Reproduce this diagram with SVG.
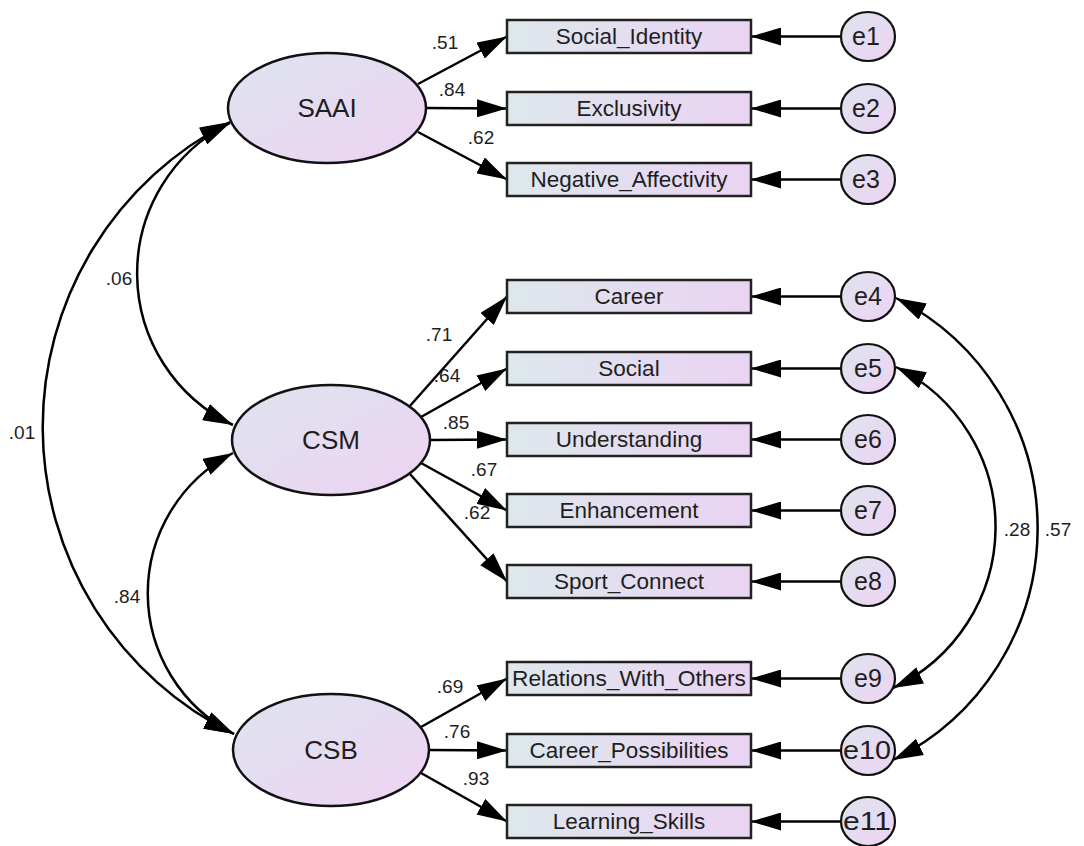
<svg xmlns="http://www.w3.org/2000/svg" width="1084" height="846" viewBox="0 0 1084 846">
<defs>
<linearGradient id="gE" x1="0" y1="0" x2="1" y2="1">
<stop offset="0" stop-color="#dde4ee"/>
<stop offset="1" stop-color="#eed3f3"/>
</linearGradient>
<linearGradient id="gB" x1="0" y1="0" x2="1" y2="0">
<stop offset="0" stop-color="#dde8ec"/>
<stop offset="1" stop-color="#ead3f3"/>
</linearGradient>
<marker id="ah" markerUnits="userSpaceOnUse" markerWidth="32" markerHeight="18" refX="30" refY="9" orient="auto-start-reverse" viewBox="0 0 32 18">
<path d="M0,0 L30,9 L0,18 Z" fill="#000"/>
</marker>
<style>
.lat{fill:url(#gE);stroke:#111;stroke-width:2.5}
.box{fill:url(#gB);stroke:#222;stroke-width:2.5}
.err{fill:url(#gE);stroke:#111;stroke-width:2.2}
.ln{fill:none;stroke:#000;stroke-width:2.5;marker-end:url(#ah)}
.cov{fill:none;stroke:#000;stroke-width:2.5;marker-start:url(#ah);marker-end:url(#ah)}
text{font-family:"Liberation Sans",Arial,sans-serif;fill:#1e1e1e;text-anchor:middle}
.tl{font-size:26px}
.tb{font-size:22.5px}
.te{font-size:25px}
.tc{font-size:19px}
</style>
</defs>
<rect width="1084" height="846" fill="#fff"/>

<g id="connectors">
<line class="ln" x1="418" y1="84" x2="507" y2="36.5"/>
<line class="ln" x1="425" y1="108" x2="507" y2="108.5"/>
<line class="ln" x1="418" y1="132" x2="507" y2="179.5"/>
<line class="ln" x1="409" y1="407" x2="507" y2="296.5"/>
<line class="ln" x1="421" y1="417" x2="507" y2="368.5"/>
<line class="ln" x1="429" y1="440" x2="507" y2="439.5"/>
<line class="ln" x1="421" y1="463" x2="507" y2="510.5"/>
<line class="ln" x1="409" y1="473" x2="507" y2="581.5"/>
<line class="ln" x1="421" y1="727" x2="507" y2="678.5"/>
<line class="ln" x1="429" y1="750" x2="507" y2="750.5"/>
<line class="ln" x1="421" y1="773" x2="507" y2="821.5"/>
<line class="ln" x1="841" y1="36.5" x2="751" y2="36.5"/>
<line class="ln" x1="841" y1="108.5" x2="751" y2="108.5"/>
<line class="ln" x1="841" y1="179.5" x2="751" y2="179.5"/>
<line class="ln" x1="841" y1="296.5" x2="751" y2="296.5"/>
<line class="ln" x1="841" y1="368.5" x2="751" y2="368.5"/>
<line class="ln" x1="841" y1="439.5" x2="751" y2="439.5"/>
<line class="ln" x1="841" y1="510.5" x2="751" y2="510.5"/>
<line class="ln" x1="841" y1="581.5" x2="751" y2="581.5"/>
<line class="ln" x1="841" y1="678.5" x2="751" y2="678.5"/>
<line class="ln" x1="841" y1="750.5" x2="751" y2="750.5"/>
<line class="ln" x1="841" y1="821.5" x2="751" y2="821.5"/>
<path class="cov" d="M230,122 A342,342 0 0 0 234,734"/>
<path class="cov" d="M230,123 A168,168 0 0 0 233,425"/>
<path class="cov" d="M233,453 A158,158 0 0 0 234,734"/>
<path class="cov" d="M896,298 A258,258 0 0 1 893,760"/>
<path class="cov" d="M896,367 A178,178 0 0 1 893,688"/>
<text class="tc" x="445" y="49">.51</text>
<text class="tc" x="452" y="96">.84</text>
<text class="tc" x="481" y="144">.62</text>
<text class="tc" x="439" y="341">.71</text>
<text class="tc" x="447" y="382">.64</text>
<text class="tc" x="456" y="429">.85</text>
<text class="tc" x="484" y="476">.67</text>
<text class="tc" x="477" y="519">.62</text>
<text class="tc" x="450" y="693">.69</text>
<text class="tc" x="457" y="738">.76</text>
<text class="tc" x="476" y="785">.93</text>
<text class="tc" x="119" y="285">.06</text>
<text class="tc" x="22" y="439">.01</text>
<text class="tc" x="127" y="603">.84</text>
<text class="tc" x="1017" y="536">.28</text>
<text class="tc" x="1058" y="536">.57</text>
</g>

<g id="SAAI"><ellipse class="lat" cx="327" cy="108" rx="99" ry="55"/><text class="tl" x="327" y="108" dy="0.35em">SAAI</text></g>
<g id="CSM"><ellipse class="lat" cx="331" cy="440" rx="99" ry="55"/><text class="tl" x="331" y="440" dy="0.35em">CSM</text></g>
<g id="CSB"><ellipse class="lat" cx="331" cy="750" rx="98" ry="56"/><text class="tl" x="331" y="750" dy="0.35em">CSB</text></g>

<g id="Social_Identity"><rect class="box" x="507" y="20" width="244" height="33"/><text class="tb" x="629" y="36.5" dy="0.35em">Social_Identity</text></g>
<g id="Exclusivity"><rect class="box" x="507" y="92" width="244" height="33"/><text class="tb" x="629" y="108.5" dy="0.35em">Exclusivity</text></g>
<g id="Negative_Affectivity"><rect class="box" x="507" y="163" width="244" height="33"/><text class="tb" x="629" y="179.5" dy="0.35em">Negative_Affectivity</text></g>
<g id="Career"><rect class="box" x="507" y="280" width="244" height="33"/><text class="tb" x="629" y="296.5" dy="0.35em">Career</text></g>
<g id="Social"><rect class="box" x="507" y="352" width="244" height="33"/><text class="tb" x="629" y="368.5" dy="0.35em">Social</text></g>
<g id="Understanding"><rect class="box" x="507" y="423" width="244" height="33"/><text class="tb" x="629" y="439.5" dy="0.35em">Understanding</text></g>
<g id="Enhancement"><rect class="box" x="507" y="494" width="244" height="33"/><text class="tb" x="629" y="510.5" dy="0.35em">Enhancement</text></g>
<g id="Sport_Connect"><rect class="box" x="507" y="565" width="244" height="33"/><text class="tb" x="629" y="581.5" dy="0.35em">Sport_Connect</text></g>
<g id="Relations_With_Others"><rect class="box" x="507" y="662" width="244" height="33"/><text class="tb" x="629" y="678.5" dy="0.35em" textLength="234" lengthAdjust="spacingAndGlyphs">Relations_With_Others</text></g>
<g id="Career_Possibilities"><rect class="box" x="507" y="734" width="244" height="33"/><text class="tb" x="629" y="750.5" dy="0.35em">Career_Possibilities</text></g>
<g id="Learning_Skills"><rect class="box" x="507" y="805" width="244" height="33"/><text class="tb" x="629" y="821.5" dy="0.35em">Learning_Skills</text></g>

<g id="e1"><ellipse class="err" cx="868" cy="36.5" rx="27" ry="24.5"/><text class="te" x="866" y="36.5" dy="0.35em">e1</text></g>
<g id="e2"><ellipse class="err" cx="868" cy="108.5" rx="27" ry="24.5"/><text class="te" x="866" y="108.5" dy="0.35em">e2</text></g>
<g id="e3"><ellipse class="err" cx="868" cy="179.5" rx="27" ry="24.5"/><text class="te" x="866" y="179.5" dy="0.35em">e3</text></g>
<g id="e4"><ellipse class="err" cx="868" cy="296.5" rx="27" ry="24.5"/><text class="te" x="868" y="296.5" dy="0.35em">e4</text></g>
<g id="e5"><ellipse class="err" cx="868" cy="368.5" rx="27" ry="24.5"/><text class="te" x="868" y="368.5" dy="0.35em">e5</text></g>
<g id="e6"><ellipse class="err" cx="868" cy="439.5" rx="27" ry="24.5"/><text class="te" x="868" y="439.5" dy="0.35em">e6</text></g>
<g id="e7"><ellipse class="err" cx="868" cy="510.5" rx="27" ry="24.5"/><text class="te" x="868" y="510.5" dy="0.35em">e7</text></g>
<g id="e8"><ellipse class="err" cx="868" cy="581.5" rx="27" ry="24.5"/><text class="te" x="868" y="581.5" dy="0.35em">e8</text></g>
<g id="e9"><ellipse class="err" cx="868" cy="678.5" rx="27" ry="24.5"/><text class="te" x="868" y="678.5" dy="0.35em">e9</text></g>
<g id="e10"><ellipse class="err" cx="868" cy="750.5" rx="27" ry="24.5"/><text class="te" x="867" y="750.5" dy="0.35em" textLength="48" lengthAdjust="spacingAndGlyphs">e10</text></g>
<g id="e11"><ellipse class="err" cx="868" cy="821.5" rx="27" ry="24.5"/><text class="te" x="867" y="821.5" dy="0.35em" textLength="48" lengthAdjust="spacingAndGlyphs">e11</text></g>
</svg>
